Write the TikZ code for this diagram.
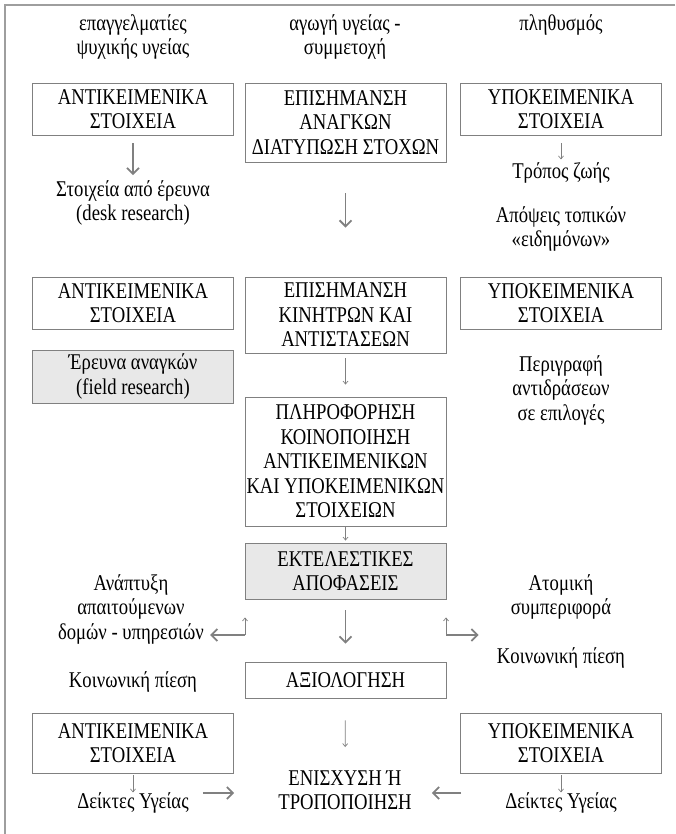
\documentclass[tikz,border=0pt]{standalone}
\usepackage{fontspec}
\setmainfont{Liberation Serif}[FakeStretch=0.83]
\usepackage{tikz}
\usetikzlibrary{arrows.meta, positioning, calc}
\definecolor{linegray}{rgb}{0.5,0.5,0.5}
\definecolor{boxgray}{rgb}{0.91,0.91,0.91}
\definecolor{framegray}{rgb}{0.62,0.62,0.62}

\begin{document}
\begin{tikzpicture}[
    x=1pt, y=-1pt,
    every node/.style={font=\fontsize{22.5}{24.5}\selectfont, text=black},
    box/.style={draw=linegray, line width=0.9pt, fill=white, minimum width=201pt, align=center, inner sep=0pt},
    graybox/.style={box, fill=boxgray},
    txt/.style={align=center, inner sep=0pt},
    bigarrow/.style={-{Straight Barb[length=6pt, width=12pt]}, line width=1.8pt, draw=linegray},
    smallarrow/.style={-{Straight Barb[length=3pt, width=5pt]}, line width=0.7pt, draw=linegray}
]
    \useasboundingbox (0,0) rectangle (675,834);
    \draw[framegray, line width=1.5pt] (675,5) -- (5,5) -- (5,834);

    \node[txt] (hL) at (133,37) {επαγγελματίες\\ψυχικής υγείας};
    \node[txt] (hM) at (345,37) {αγωγή υγείας -\\συμμετοχή};
    \node[txt] (hR) at (561,25) {πληθυσμός};

    \node[box, minimum height=52pt] (oA) at (133,109) {ΑΝΤΙΚΕΙΜΕΝΙΚΑ\\ΣΤΟΙΧΕΙΑ};
    \node[box, minimum height=79pt] (needs) at (345.5,122.5) {ΕΠΙΣΗΜΑΝΣΗ\\ΑΝΑΓΚΩΝ\\ΔΙΑΤΥΠΩΣΗ ΣΤΟΧΩΝ};
    \node[box, minimum height=52pt] (sA) at (561,109) {ΥΠΟΚΕΙΜΕΝΙΚΑ\\ΣΤΟΙΧΕΙΑ};
    \node[txt] (desk) at (133,203) {Στοιχεία από έρευνα\\(desk research)};
    \node[txt] (life) at (561,173) {Τρόπος ζωής};
    \node[txt] (views) at (561,229) {Απόψεις τοπικών\\«ειδημόνων»};

    \node[box, minimum height=52pt] (oB) at (133,303) {ΑΝΤΙΚΕΙΜΕΝΙΚΑ\\ΣΤΟΙΧΕΙΑ};
    \node[box, minimum height=76pt] (motives) at (345.5,315) {ΕΠΙΣΗΜΑΝΣΗ\\ΚΙΝΗΤΡΩΝ ΚΑΙ\\ΑΝΤΙΣΤΑΣΕΩΝ};
    \node[box, minimum height=52pt] (sB) at (561,303) {ΥΠΟΚΕΙΜΕΝΙΚΑ\\ΣΤΟΙΧΕΙΑ};
    \node[graybox, minimum height=53pt] (field) at (133,376.5) {Έρευνα αναγκών\\(field research)};
    \node[txt] (react) at (561,390) {Περιγραφή\\αντιδράσεων\\σε επιλογές};
    \node[box, minimum height=129pt] (inform) at (345.5,461.5) {ΠΛΗΡΟΦΟΡΗΣΗ\\ΚΟΙΝΟΠΟΙΗΣΗ\\ΑΝΤΙΚΕΙΜΕΝΙΚΩΝ\\ΚΑΙ ΥΠΟΚΕΙΜΕΝΙΚΩΝ\\ΣΤΟΙΧΕΙΩΝ};
    \node[graybox, minimum height=56pt] (decide) at (345.5,571) {ΕΚΤΕΛΕΣΤΙΚΕΣ\\ΑΠΟΦΑΣΕΙΣ};

    \node[txt] (dev) at (131,609) {Ανάπτυξη\\απαιτούμενων\\δομών - υπηρεσιών};
    \node[txt] (atom) at (561,597) {Ατομική\\συμπεριφορά};
    \node[txt] (pressR) at (561,658) {Κοινωνική πίεση};
    \node[txt] (pressL) at (133,682) {Κοινωνική πίεση};
    \node[box, minimum height=36pt] (eval) at (345.5,680) {ΑΞΙΟΛΟΓΗΣΗ};

    \node[box, minimum height=60pt] (oC) at (133,743) {ΑΝΤΙΚΕΙΜΕΝΙΚΑ\\ΣΤΟΙΧΕΙΑ};
    \node[box, minimum height=60pt] (sC) at (561,743) {ΥΠΟΚΕΙΜΕΝΙΚΑ\\ΣΤΟΙΧΕΙΑ};
    \node[txt] (result) at (345,790) {ΕΝΙΣΧΥΣΗ Ή\\ΤΡΟΠΟΠΟΙΗΣΗ};
    \node[txt] (indL) at (133,803) {Δείκτες Υγείας};
    \node[txt] (indR) at (561,803) {Δείκτες Υγείας};

    \draw[bigarrow, shorten <=8pt, shorten >=5pt] (oA) -- (desk);
    \draw[smallarrow, shorten <=8pt, shorten >=3pt] (sA) -- (life);
    \draw[bigarrow, shorten <=31pt, shorten >=49pt] (needs) -- (motives);
    \draw[smallarrow, shorten <=5pt, shorten >=12pt] (motives) -- (inform);
    \draw[smallarrow, shorten <=1pt, shorten >=2pt] (inform) -- (decide);
    \draw[bigarrow, shorten <=11pt, shorten >=18pt] (decide) -- (eval);
    \draw[smallarrow, shorten <=22pt, shorten >=23pt] (eval) -- (result);
    \draw[smallarrow, shorten <=2pt] (oC) -- (indL);
    \draw[smallarrow, shorten <=2pt] (sC) -- (indR);

    \coordinate (cL) at (245,635);
    \coordinate (cR) at (446,635);
    \draw[smallarrow, shorten >=18pt] (cL) -- (cL |- decide.south);
    \draw[bigarrow, shorten >=6pt] (cL) -- (cL -| dev.east);
    \draw[smallarrow, shorten >=18pt] (cR) -- (cR |- decide.south);
    \draw[bigarrow, shorten >=32pt] (cR) -- (cR -| atom.west);

    \draw[bigarrow, shorten <=14pt, shorten >=44pt] ([yshift=10pt]indL.east) -- ([yshift=10pt]indL.east -| result.west);
    \draw[bigarrow, shorten <=44pt, shorten >=20pt] ([yshift=10pt]indR.west) -- ([yshift=10pt]indR.west -| result.east);
\end{tikzpicture}
\end{document}
